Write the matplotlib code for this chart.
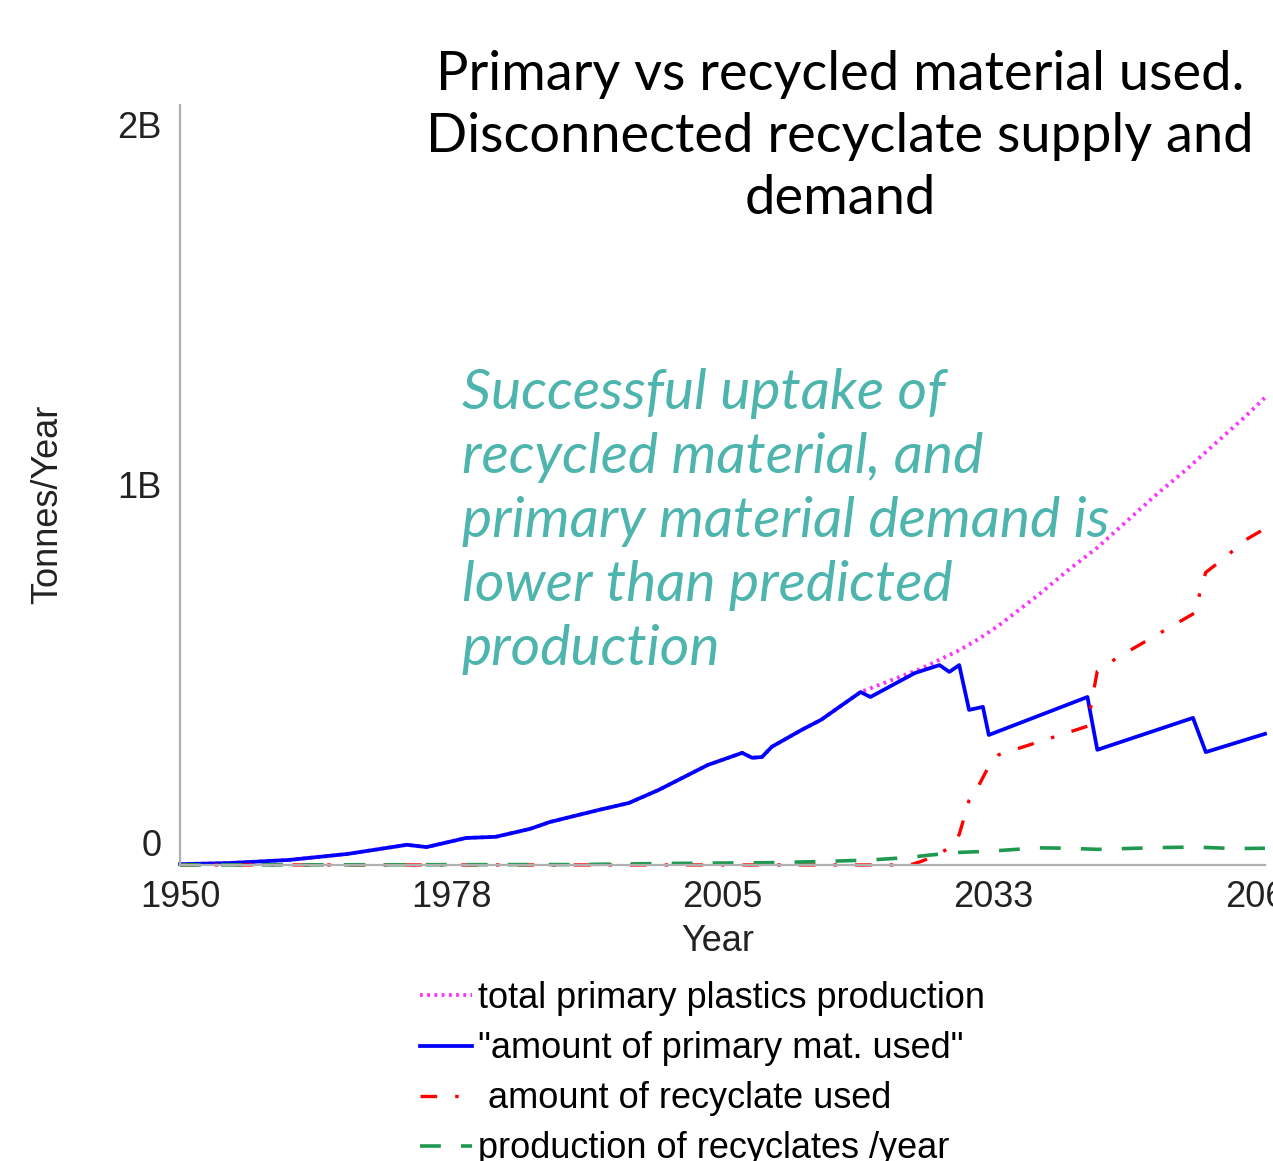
import matplotlib
matplotlib.use("Agg")
import matplotlib.pyplot as plt
from matplotlib.transforms import ScaledTranslation

plt.rcParams['font.family'] = 'Liberation Sans'
plt.rcParams['font.size'] = 26
plt.rcParams['lines.scale_dashes'] = False

# ==== Data (billion tonnes / year) ==== #
years_total = [1950, 1955, 1961, 1967, 1973, 1975, 1979, 1982, 1985.5, 1987.5, 1992.5,
               1995.5, 1998.5, 2003.5, 2007, 2008, 2009, 2010, 2013, 2015, 2019, 2021,
               2023, 2025, 2027, 2029, 2031, 2033, 2035, 2037, 2040, 2043, 2046, 2049,
               2052, 2055, 2058, 2060]
total_production = [0.002, 0.005, 0.013, 0.029, 0.053, 0.047, 0.071, 0.074, 0.095, 0.113,
                    0.145, 0.163, 0.197, 0.263, 0.295, 0.282, 0.284, 0.311, 0.355, 0.382,
                    0.455, 0.475, 0.495, 0.515, 0.54, 0.565, 0.595, 0.63, 0.67, 0.71,
                    0.775, 0.835, 0.905, 0.975, 1.04, 1.11, 1.18, 1.23]

years_primary = [1950, 1955, 1961, 1967, 1973, 1975, 1979, 1982, 1985.5, 1987.5, 1992.5,
                 1995.5, 1998.5, 2003.5, 2007, 2008, 2009, 2010, 2013, 2015, 2019, 2020,
                 2024.5, 2027, 2028, 2029, 2030, 2031.4, 2032, 2042, 2043, 2052.7, 2054,
                 2060]
primary_used = [0.002, 0.005, 0.013, 0.029, 0.053, 0.047, 0.071, 0.074, 0.095, 0.113,
                0.145, 0.163, 0.197, 0.263, 0.295, 0.282, 0.284, 0.311, 0.355, 0.382,
                0.455, 0.442, 0.505, 0.526, 0.508, 0.526, 0.408, 0.416, 0.342, 0.442,
                0.303, 0.387, 0.297, 0.345]

years_recyclate = [1950, 2024, 2025, 2026, 2027, 2028, 2029, 2030, 2031, 2032, 2033, 2036,
                   2039, 2042, 2042.5, 2043, 2045, 2048, 2051, 2053, 2053.5, 2054, 2056,
                   2058, 2060]
recyclate_used = [0, 0, 0.008, 0.018, 0.03, 0.045, 0.08, 0.17, 0.21, 0.26, 0.29, 0.315,
                  0.34, 0.365, 0.44, 0.51, 0.545, 0.59, 0.635, 0.665, 0.73, 0.77, 0.81,
                  0.855, 0.885]

years_prod = [1950, 1990, 2000, 2010, 2015, 2020, 2024, 2026, 2029, 2032, 2037, 2040,
              2043, 2047, 2050, 2053, 2057, 2060]
recyclate_production = [0, 0.001, 0.004, 0.006, 0.009, 0.013, 0.02, 0.026, 0.033, 0.036,
                        0.045, 0.044, 0.041, 0.044, 0.046, 0.047, 0.043, 0.044]

x_ticks = [1950, 1977.5, 2005, 2032.5, 2060]
x_labels = ['1950', '1978', '2005', '2033', '2060']
y_ticks = [0, 1, 2]
y_labels = ['0', '1B', '2B']

labels = ['total primary plastics production', '"amount of primary mat. used"',
          ' amount of recyclate used', 'production of recyclates /year']

# ==== Plot ==== #
fig = plt.figure(figsize=(12.73, 11.61), dpi=100)
ax = fig.add_axes([0.1414, 0.255, 0.8523, 0.6546])

l1, = ax.plot(years_total, total_production, color='#ff33ff', lw=2.8,
              dashes=(2.0, 3.2), clip_on=False)
l2, = ax.plot(years_primary, primary_used, color='#0000ff', lw=2.7, clip_on=False)
l3, = ax.plot(years_recyclate, recyclate_used, color='#ff0000', lw=2.4,
              dashes=(12, 13, 2.5, 13), clip_on=False)
l4, = ax.plot(years_prod, recyclate_production, color='#1f9950', lw=2.6,
              dashes=(15, 14.5), clip_on=False)

ax.set_xlim(1950, 2060)
ax.set_ylim(0, 2)
for s in ['top', 'right']:
    ax.spines[s].set_visible(False)
for s in ['left', 'bottom']:
    ax.spines[s].set_color('#b0b0b0')
    ax.spines[s].set_linewidth(1.6)

ax.set_xticks(x_ticks)
ax.set_xticklabels(x_labels)
ax.set_yticks(y_ticks)
ax.set_yticklabels(y_labels)
ax.tick_params(length=0, colors='#222222', labelsize=26)
ax.tick_params(axis='x', pad=11)
ax.tick_params(axis='y', pad=13)

# shift end labels inward like the original
ylabs = ax.get_yticklabels()
ylabs[0].set_transform(ylabs[0].get_transform() + ScaledTranslation(0, 0.22, fig.dpi_scale_trans))
ylabs[2].set_transform(ylabs[2].get_transform() + ScaledTranslation(0, -0.2, fig.dpi_scale_trans))

ax.set_xlabel('Year', color='#222222', fontsize=26)
ax.xaxis.set_label_coords(0.496, -0.078)
ax.set_ylabel('Tonnes/Year', color='#222222', fontsize=26)
ax.yaxis.set_label_coords(-0.106, 0.474)

ax.legend([l1, l2, l3, l4], labels, loc='upper left', bbox_to_anchor=(420 / 1273, 1 - 981 / 1161),
          bbox_transform=fig.transFigure, frameon=False, fontsize=26, handlelength=1.45,
          handletextpad=0.15, labelspacing=0.42, borderpad=0, borderaxespad=0)

fig.text(840 / 1273, 1 - 50 / 1161,
         'Primary vs recycled material used.\nDisconnected recyclate supply and\ndemand',
         ha='center', va='top', fontsize=39, linespacing=1.33, family='Lato')

fig.text(462 / 1273, 1 - 368 / 1161,
         'Successful uptake of\nrecycled material, and\nprimary material demand is\n'
         'lower than predicted\nproduction',
         ha='left', va='top', fontsize=41, style='italic', color='#4db5ad',
         linespacing=1.32, family='Lato')

fig.savefig('out.png', dpi=100)
